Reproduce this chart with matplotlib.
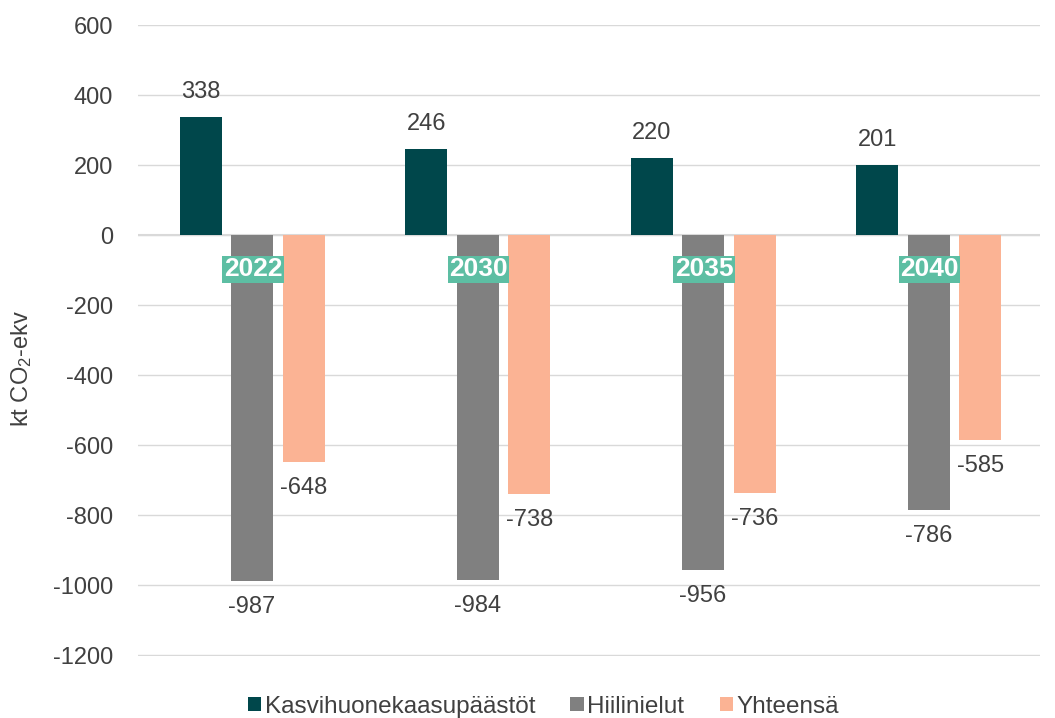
import numpy as np
import matplotlib.pyplot as plt

plt.rcParams['font.family'] = ['Liberation Sans', 'DejaVu Sans']
plt.rcParams['mathtext.default'] = 'regular'
plt.rcParams['axes.unicode_minus'] = False

# data
years = ["2022", "2030", "2035", "2040"]
series_names = ["Kasvihuonekaasupäästöt", "Hiilinielut", "Yhteensä"]
emissions = [338, 246, 220, 201]
sinks = [-987, -984, -956, -786]
totals = [-648, -738, -736, -585]

colors = ["#00474B", "#808080", "#FBB394"]
text_color = "#404040"
grid_color = "#D9D9D9"

fig = plt.figure(figsize=(10.55, 7.18), dpi=100)
ax = fig.add_axes([0.131, 0.0864, 0.855, 0.8787])

x = np.arange(len(years))
width = 0.186
offsets = [-0.222, 0.005, 0.235]

for vals, name, col, off in zip([emissions, sinks, totals], series_names, colors, offsets):
    bars = ax.bar(x + off, vals, width=width, color=col, label=name, zorder=2)
    for b, v in zip(bars, vals):
        dy = 25 if v > 0 else -26
        ax.annotate(str(v), xy=(b.get_x() + b.get_width() / 2, v),
                    xytext=(0, dy), textcoords="offset pixels",
                    ha="center", va="center", fontsize=17, color=text_color)

# year labels sitting on the category axis
for xi, yr in zip(x, years):
    ax.annotate(yr, xy=(xi, 0), xytext=(2, -34), textcoords="offset pixels",
                ha="center", va="center", fontsize=19, fontweight="bold",
                color="white", zorder=5,
                bbox=dict(boxstyle="square,pad=0.05", fc="#5DBEA3", ec="none"))

ax.set_ylim(-1202, 601)
ax.set_xlim(-0.5, 3.5)
ax.set_yticks(np.arange(-1200, 601, 200))
ax.set_xticks([])
ax.yaxis.grid(True, color=grid_color, linewidth=1, zorder=0)
ax.axhline(0, color=grid_color, linewidth=1.5, zorder=1)
for s in ax.spines.values():
    s.set_visible(False)
ax.tick_params(axis="y", length=0, labelsize=17, labelcolor=text_color, pad=18)
ax.set_ylabel("kt CO$_2$-ekv", fontsize=17, color=text_color)
ax.yaxis.set_label_coords(-0.116, 0.456)

fig.legend(loc="lower center", bbox_to_anchor=(0.515, -0.03), ncol=3,
           frameon=False, fontsize=17.5, handlelength=0.55, handleheight=0.55,
           handletextpad=0.15, columnspacing=1.45, labelcolor=text_color)

fig.savefig("out.png", dpi=100)
